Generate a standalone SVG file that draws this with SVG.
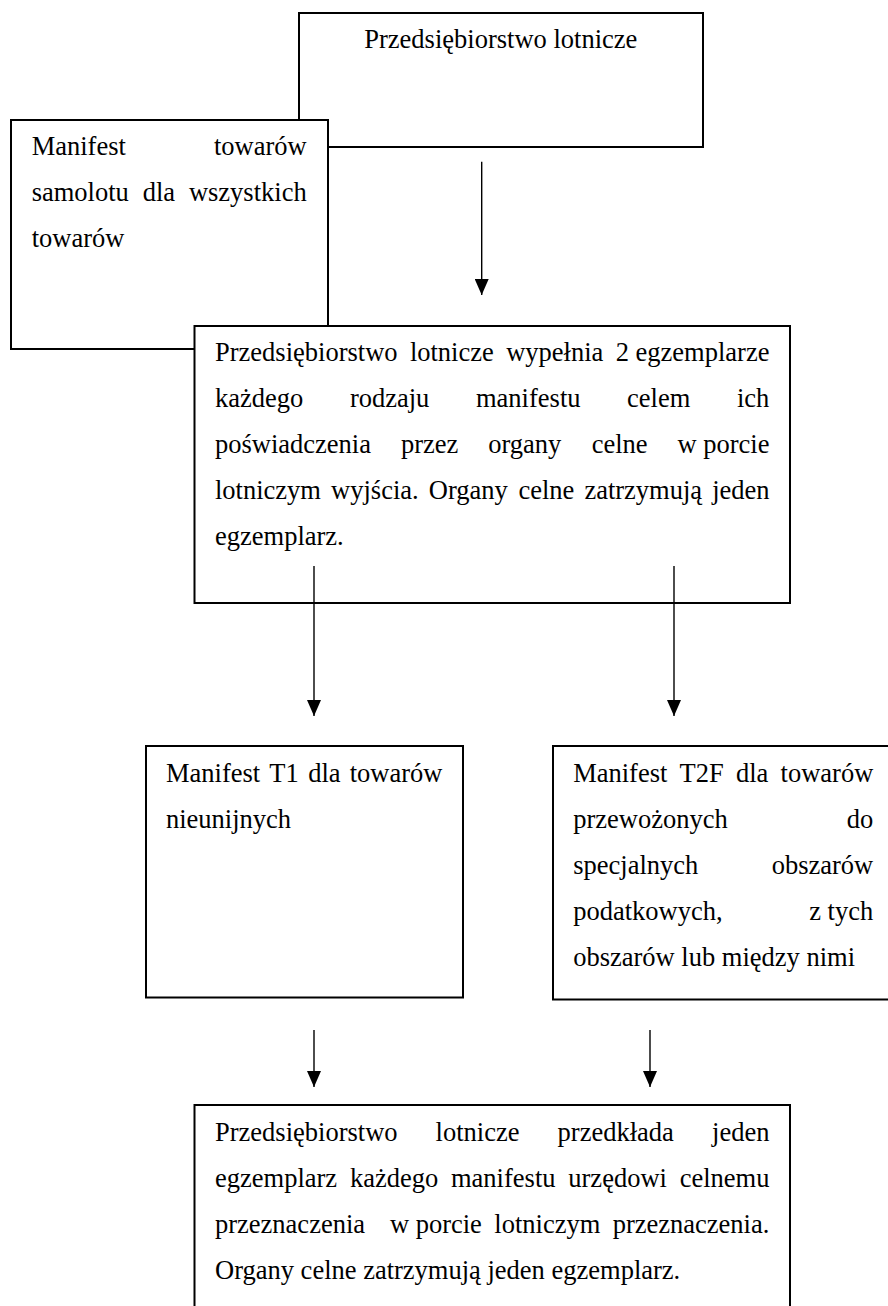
<svg xmlns="http://www.w3.org/2000/svg" width="888" height="1306" viewBox="0 0 888 1306">
  <style>
    .box { fill: #fff; stroke: #000; stroke-width: 2; }
    .txt { font-family: "Liberation Serif", "Times New Roman", serif; font-size: 26.5px; fill: #000; }
    .conn { stroke: #000; stroke-width: 1.4; fill: none; marker-end: url(#head); }
  </style>
  <defs>
    <marker id="head" viewBox="0 0 16 14" refX="16" refY="7" markerWidth="16" markerHeight="14" markerUnits="userSpaceOnUse" orient="auto">
      <path d="M0,0 L16,7 L0,14 z" fill="#000"/>
    </marker>
  </defs>

  <rect width="888" height="1306" fill="#fff"/>

  <!-- airline company (top) -->
  <g id="przedsiebiorstwo">
    <rect class="box" x="299" y="13" width="404" height="134"/>
    <text class="txt" x="500.8" y="47.5" text-anchor="middle">Przedsiębiorstwo lotnicze</text>
  </g>

  <!-- aircraft cargo manifest for all goods -->
  <g id="manifest-towarow">
    <rect class="box" x="11" y="120" width="317" height="229"/>
    <text class="txt" y="154.5"><tspan x="31.7">Manifest</tspan><tspan x="214">towarów</tspan></text>
    <text class="txt" y="200.5"><tspan x="31.7">samolotu</tspan><tspan x="142.7">dla</tspan><tspan x="188.9">wszystkich</tspan></text>
    <text class="txt" y="246.5"><tspan x="31.7">towarów</tspan></text>
  </g>

  <!-- two copies certified at departure -->
  <g id="wypelnienie">
    <rect class="box" x="194.5" y="326" width="595.5" height="277"/>
    <text class="txt" y="360.5"><tspan x="215">Przedsiębiorstwo</tspan><tspan x="409.9">lotnicze</tspan><tspan x="506.2">wypełnia</tspan><tspan x="615.7">2 egzemplarze</tspan></text>
    <text class="txt" y="406.5"><tspan x="215">każdego</tspan><tspan x="349.9">rodzaju</tspan><tspan x="476">manifestu</tspan><tspan x="627.1">celem</tspan><tspan x="737">ich</tspan></text>
    <text class="txt" y="452.5"><tspan x="215">poświadczenia</tspan><tspan x="400.9">przez</tspan><tspan x="488.2">organy</tspan><tspan x="591.7">celne</tspan><tspan x="677.5">w porcie</tspan></text>
    <text class="txt" y="498.5"><tspan x="215">lotniczym</tspan><tspan x="331.1">wyjścia.</tspan><tspan x="428.8">Organy</tspan><tspan x="518.4">celne</tspan><tspan x="584.4">zatrzymują</tspan><tspan x="712.2">jeden</tspan></text>
    <text class="txt" y="544.5"><tspan x="215">egzemplarz.</tspan></text>
  </g>

  <!-- T1 manifest -->
  <g id="manifest-t1">
    <rect class="box" x="146" y="746" width="317" height="251.5"/>
    <text class="txt" y="781.5"><tspan x="166">Manifest</tspan><tspan x="269.3">T1</tspan><tspan x="308.2">dla</tspan><tspan x="349.7">towarów</tspan></text>
    <text class="txt" y="827.5"><tspan x="166">nieunijnych</tspan></text>
  </g>

  <!-- T2F manifest -->
  <g id="manifest-t2f">
    <rect class="box" x="553" y="746" width="345" height="253.5"/>
    <text class="txt" y="781.5"><tspan x="573.2">Manifest</tspan><tspan x="679.6">T2F</tspan><tspan x="736">dla</tspan><tspan x="780.6">towarów</tspan></text>
    <text class="txt" y="827.5"><tspan x="573.2">przewożonych</tspan><tspan x="846.7">do</tspan></text>
    <text class="txt" y="873.5"><tspan x="573.2">specjalnych</tspan><tspan x="771.7">obszarów</tspan></text>
    <text class="txt" y="919.5"><tspan x="573.2">podatkowych,</tspan><tspan x="809.2">z tych</tspan></text>
    <text class="txt" y="965.5"><tspan x="573.2">obszarów lub między nimi</tspan></text>
  </g>

  <!-- one copy presented at destination -->
  <g id="przedlozenie">
    <rect class="box" x="194.5" y="1105" width="595.5" height="220"/>
    <text class="txt" y="1141"><tspan x="215">Przedsiębiorstwo</tspan><tspan x="435.6">lotnicze</tspan><tspan x="557.6">przedkłada</tspan><tspan x="712.1">jeden</tspan></text>
    <text class="txt" y="1187"><tspan x="215">egzemplarz</tspan><tspan x="349.9">każdego</tspan><tspan x="451">manifestu</tspan><tspan x="568.3">urzędowi</tspan><tspan x="679.7">celnemu</tspan></text>
    <text class="txt" y="1233"><tspan x="215">przeznaczenia</tspan><tspan x="389.9">w porcie</tspan><tspan x="494.3">lotniczym</tspan><tspan x="612.7">przeznaczenia.</tspan></text>
    <text class="txt" y="1279"><tspan x="215">Organy celne zatrzymują jeden egzemplarz.</tspan></text>
  </g>

  <!-- connectors -->
  <g id="connectors">
    <line class="conn" x1="481.7" y1="161.7" x2="481.7" y2="295"/>
    <line class="conn" x1="314" y1="566" x2="314" y2="716"/>
    <line class="conn" x1="674" y1="566" x2="674" y2="716"/>
    <line class="conn" x1="314" y1="1030" x2="314" y2="1087"/>
    <line class="conn" x1="650" y1="1030" x2="650" y2="1087"/>
  </g>
</svg>
